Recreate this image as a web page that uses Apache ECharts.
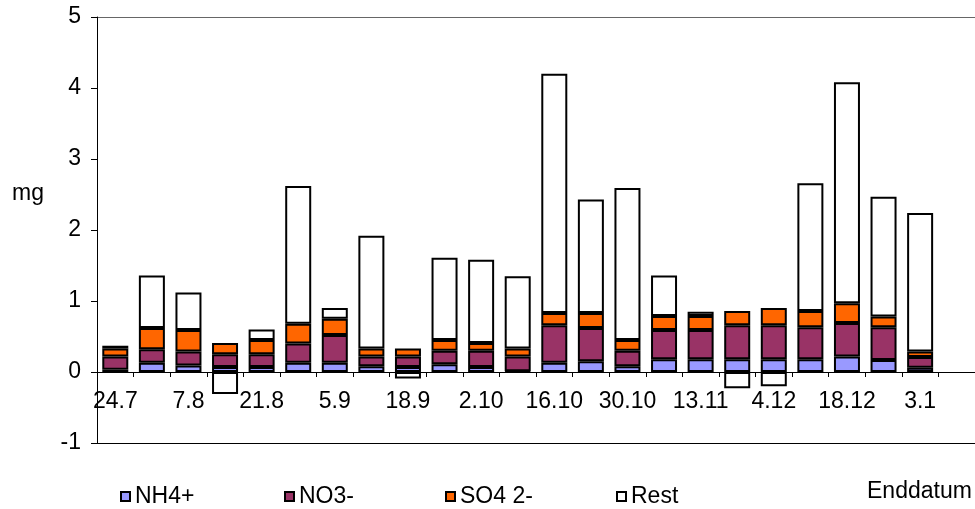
<!DOCTYPE html>
<html>
<head>
<meta charset="utf-8">
<script src="https://cdn.jsdelivr.net/npm/echarts@6/dist/echarts.min.js"></script>
<style>
  html, body { margin: 0; padding: 0; background: #fff; }
  #main { width: 975px; height: 509px; }
</style>
</head>
<body>
<div id="main"></div>
<script>
// Enddatum der Sammelperioden
var dates = ['24.7', '31.7', '7.8', '14.8', '21.8', '28.8', '5.9', '12.9', '18.9', '25.9',
  '2.10', '9.10', '16.10', '23.10', '30.10', '6.11', '13.11', '27.11', '4.12', '11.12',
  '18.12', '27.12', '3.1', '17.1'];

// Werte in mg
var nh4 = [0.03, 0.13, 0.09, 0.07, 0.07, 0.13, 0.13, 0.08, 0.07, 0.11, 0.07, 0.01,
  0.13, 0.15, 0.08, 0.18, 0.18, 0.18, 0.18, 0.18, 0.22, 0.17, 0.06, null];
var no3 = [0.19, 0.19, 0.20, 0.18, 0.18, 0.27, 0.39, 0.14, 0.15, 0.19, 0.23, 0.21,
  0.53, 0.47, 0.22, 0.41, 0.41, 0.48, 0.48, 0.45, 0.47, 0.46, 0.15, null];
var so4 = [0.11, 0.30, 0.30, 0.16, 0.20, 0.28, 0.23, 0.11, 0.11, 0.15, 0.11, 0.11,
  0.17, 0.21, 0.15, 0.20, 0.20, 0.20, 0.24, 0.23, 0.28, 0.15, 0.08, null];
var rest = [0.04, 0.74, 0.53, -0.31, 0.15, 1.94, 0.15, 1.59, -0.09, 1.16, 1.17, 1.02,
  3.37, 1.60, 2.14, 0.57, 0.06, -0.23, -0.20, 1.80, 3.11, 1.69, 1.95, null];

var yTicks = [-1, 0, 1, 2, 3, 4, 5];

var font = 'Liberation Sans, Arial, sans-serif';
var fontSize = 23;
var gridTop = 17, gridBottom = 66, height = 509;

var chart = echarts.init(document.getElementById('main'));

function bar(name, data, color) {
  return {
    name: name,
    type: 'bar',
    stack: 'total',
    barWidth: 26,
    data: data,
    itemStyle: { color: color, borderColor: '#000', borderWidth: 2 }
  };
}

function legendAt(name, left) {
  return {
    data: [name],
    left: left,
    top: 480,
    icon: 'rect',
    itemWidth: 9,
    itemHeight: 9,
    textStyle: { fontFamily: font, fontSize: fontSize, color: '#000' }
  };
}

// x-Achse liegt bei 0: Abstand von unten = Pixel pro Einheit * |min|
var yMin = yTicks[0], yMax = yTicks[yTicks.length - 1];
var pxPerUnit = (height - gridTop - gridBottom) / (yMax - yMin);

var option = {
  animation: false,
  backgroundColor: '#fff',
  grid: { left: 97, right: 0, top: gridTop, bottom: gridBottom, containLabel: false },
  legend: [
    legendAt('NH4+', 115),
    legendAt('NO3-', 279),
    legendAt('SO4 2-', 440),
    legendAt('Rest', 611)
  ],
  graphic: [
    { type: 'text', left: 12, top: 182, style: { text: 'mg', font: fontSize + 'px ' + font, fill: '#000' } },
    { type: 'text', left: 867, top: 480, style: { text: 'Enddatum', font: fontSize + 'px ' + font, fill: '#000' } }
  ],
  xAxis: {
    type: 'category',
    data: dates,
    offset: -pxPerUnit * (0 - yMin),
    axisLine: { onZero: false, lineStyle: { color: '#000', width: 1 } },
    axisTick: { show: true, length: 5, interval: 0, lineStyle: { color: '#000' } },
    axisLabel: { interval: 1, margin: 18, fontFamily: font, fontSize: fontSize, color: '#000' }
  },
  yAxis: {
    type: 'value',
    min: yMin,
    max: yMax,
    interval: 1,
    axisLine: { show: true, lineStyle: { color: '#000', width: 1 } },
    axisTick: { show: true, length: 6, lineStyle: { color: '#000' } },
    axisLabel: { margin: 16, fontFamily: font, fontSize: fontSize, color: '#000' },
    splitLine: {
      show: true,
      lineStyle: { color: ['#000', 'rgba(0,0,0,0)', 'rgba(0,0,0,0)', 'rgba(0,0,0,0)', 'rgba(0,0,0,0)', 'rgba(0,0,0,0)', '#666'], width: 1 }
    }
  },
  series: [
    bar('NH4+', nh4, '#9999ff'),
    bar('NO3-', no3, '#993366'),
    bar('SO4 2-', so4, '#ff6600'),
    bar('Rest', rest, '#ffffff')
  ]
};

chart.setOption(option);
</script>
</body>
</html>
